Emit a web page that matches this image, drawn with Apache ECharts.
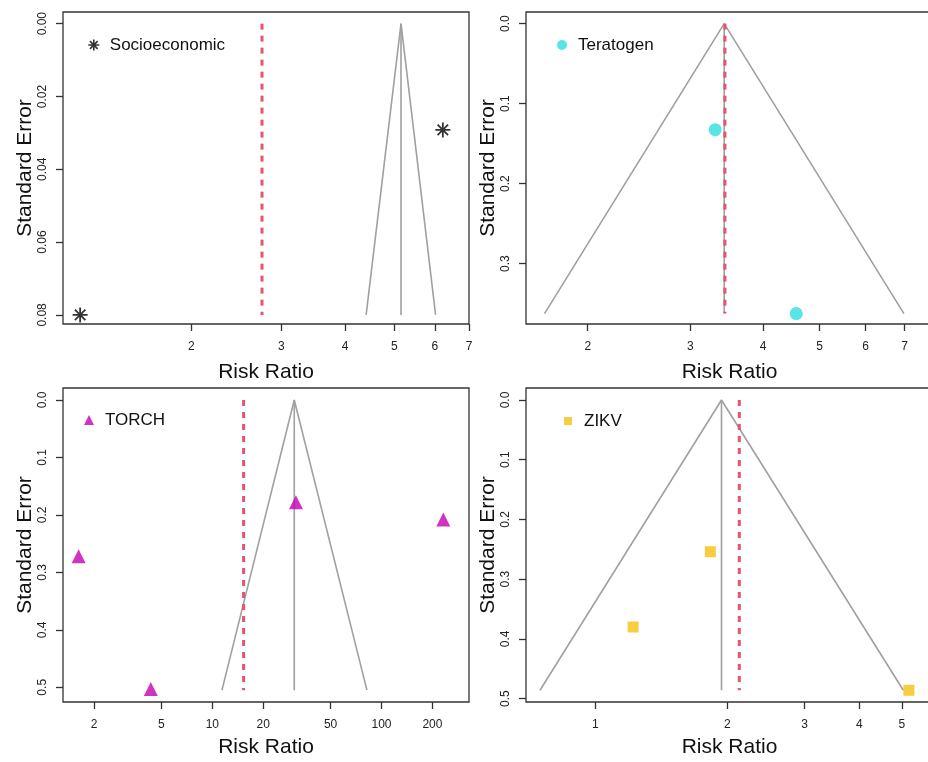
<!DOCTYPE html>
<html lang="en">
<head>
<meta charset="utf-8">
<script src="https://cdn.jsdelivr.net/npm/echarts@6.0.0/dist/echarts.min.js"></script>
</head>
<body style="margin:0;background:#fff">
<div id="container" style="width:928px;height:762px"></div>
<script>
// group names (one funnel plot each)
var groupNames = ['Socioeconomic', 'Teratogen', 'TORCH', 'ZIKV'];

// study points: risk ratio / standard error
var socioRR = [1.21, 6.22];
var socioSE = [0.080, 0.0292];
var teraRR = [3.31, 4.56];
var teraSE = [0.1325, 0.3625];
var torchRR = [1.62, 4.33, 31.2, 232];
var torchSE = [0.272, 0.503, 0.178, 0.208];
var zikvRR = [1.22, 1.83, 5.19];
var zikvSE = [0.380, 0.254, 0.486];

// funnel: apex, bounds at the widest point, max SE
var funnelApex = [5.15, 3.43, 30.5, 1.94];
var funnelLow = [4.40, 1.686, 11.4, 0.748];
var funnelHigh = [6.02, 6.98, 82.0, 5.04];
var funnelSEmax = [0.080, 0.3625, 0.505, 0.486];
// pooled estimate (red dotted line)
var pooledRR = [2.75, 3.44, 15.3, 2.13];

// axes
var xMin = [1.12, 1.567, 1.31, 0.695];
var xMax = [7.0, 7.83, 329, 5.89];
var xTicks = [[2, 3, 4, 5, 6, 7], [2, 3, 4, 5, 6, 7], [2, 5, 10, 20, 50, 100, 200], [1, 2, 3, 4, 5]];
var yMin = [-0.0032, -0.0146, -0.0209, -0.0201];
var yMax = [0.0825, 0.3755, 0.5256, 0.5056];
var yTicks = [[0, 0.02, 0.04, 0.06, 0.08], [0, 0.1, 0.2, 0.3], [0, 0.1, 0.2, 0.3, 0.4, 0.5], [0, 0.1, 0.2, 0.3, 0.4, 0.5]];
var yDigits = [2, 1, 1, 1];

var starPath = 'path://M10 0L10 20M0 10L20 10M3 3L17 17M3 17L17 3';
var colors = ['#000000', '#2EDEDE', '#C600B2', '#F5C211'];
var symbols = [starPath, 'circle', 'triangle', 'rect'];
var symbolSizes = [15, 13, 14, 11];
var legendSizes = [11, 10, 10, 8];
var legendPos = [[93, 45], [562, 45], [89, 420], [568, 421]];

var grids = [
  {left: 63, top: 12, width: 406, height: 312},
  {left: 526, top: 12, width: 407, height: 312},
  {left: 63, top: 388, width: 406, height: 314},
  {left: 526, top: 388, width: 407, height: 314}
];
var pts = [[socioRR, socioSE], [teraRR, teraSE], [torchRR, torchSE], [zikvRR, zikvSE]];

var font = 'Liberation Sans, Arial, sans-serif';
var grid = [], xAxis = [], yAxis = [], series = [], legend = [];

for (var i = 0; i < 4; i++) {
  grid.push(Object.assign({show: true, borderColor: '#333', borderWidth: 1.3,
    containLabel: false, outerBoundsMode: 'none'}, grids[i]));

  xAxis.push({
    type: 'log', logBase: 10, gridIndex: i, min: xMin[i], max: xMax[i],
    name: 'Risk Ratio', nameLocation: 'middle', nameGap: i < 2 ? 38 : 35,
    nameTextStyle: {fontFamily: font, fontSize: 21, color: '#111'},
    axisLine: {show: false, onZero: false},
    axisTick: {show: true, length: 7, customValues: xTicks[i], lineStyle: {color: '#333', width: 1.3}},
    axisLabel: {customValues: xTicks[i], margin: 17, fontFamily: font, fontSize: 12, color: '#222',
      formatter: function (v) { return String(+(+v).toPrecision(6)); }},
    splitLine: {show: false}, minorTick: {show: false}
  });

  yAxis.push({
    type: 'value', gridIndex: i, inverse: true, min: yMin[i], max: yMax[i],
    name: 'Standard Error', nameLocation: 'middle', nameGap: 27,
    nameTextStyle: {fontFamily: font, fontSize: 21, color: '#111'},
    axisLine: {show: false, onZero: false},
    axisTick: {show: true, length: 7, customValues: yTicks[i], lineStyle: {color: '#333', width: 1.3}},
    axisLabel: {customValues: yTicks[i], rotate: 90, margin: 14, fontFamily: font, fontSize: 12, color: '#222',
      formatter: (function (d) { return function (v) { return (+v).toFixed(d); }; })(yDigits[i])},
    splitLine: {show: false}
  });

  var lineBase = {type: 'line', xAxisIndex: i, yAxisIndex: i, symbol: 'none', silent: true,
    animation: false};
  series.push(Object.assign({}, lineBase, {
    data: [[funnelLow[i], funnelSEmax[i]], [funnelApex[i], 0], [funnelHigh[i], funnelSEmax[i]]],
    lineStyle: {color: '#A0A0A0', width: 1.6}, z: 2}));
  series.push(Object.assign({}, lineBase, {
    data: [[funnelApex[i], 0], [funnelApex[i], funnelSEmax[i]]],
    lineStyle: {color: '#A0A0A0', width: 1.6}, z: 2}));
  series.push(Object.assign({}, lineBase, {
    data: [[pooledRR[i], 0], [pooledRR[i], funnelSEmax[i]]],
    lineStyle: {color: '#E6546F', width: 3, type: [6, 6]}, z: 3}));

  var itemStyle = i === 0
    ? {color: 'rgba(0,0,0,0)', borderColor: '#000', borderWidth: 1.8}
    : {color: colors[i]};
  series.push({
    type: 'scatter', name: groupNames[i], xAxisIndex: i, yAxisIndex: i,
    data: pts[i][0].map(function (x, k) { return [x, pts[i][1][k]]; }),
    symbol: symbols[i], symbolSize: symbolSizes[i], itemStyle: itemStyle, z: 4, animation: false
  });

  var s = legendSizes[i];
  legend.push({
    data: [{name: groupNames[i], icon: symbols[i]}],
    left: legendPos[i][0] - s / 2, top: legendPos[i][1] - 9, padding: 0,
    itemWidth: s, itemHeight: s, selectedMode: false,
    itemStyle: i === 0 ? {color: 'rgba(0,0,0,0)', borderColor: '#000', borderWidth: 1.6} : {color: colors[i]},
    textStyle: {fontFamily: font, fontSize: 17, lineHeight: 18, color: '#111',
      padding: [0, 0, 0, 11 - s / 2]}
  });
}

var dom = document.getElementById('container');
var myChart = echarts.init(dom, null, {renderer: 'canvas'});
myChart.setOption({
  animation: false,
  backgroundColor: '#fff',
  grid: grid, xAxis: xAxis, yAxis: yAxis, legend: legend, series: series
});
</script>
</body>
</html>
